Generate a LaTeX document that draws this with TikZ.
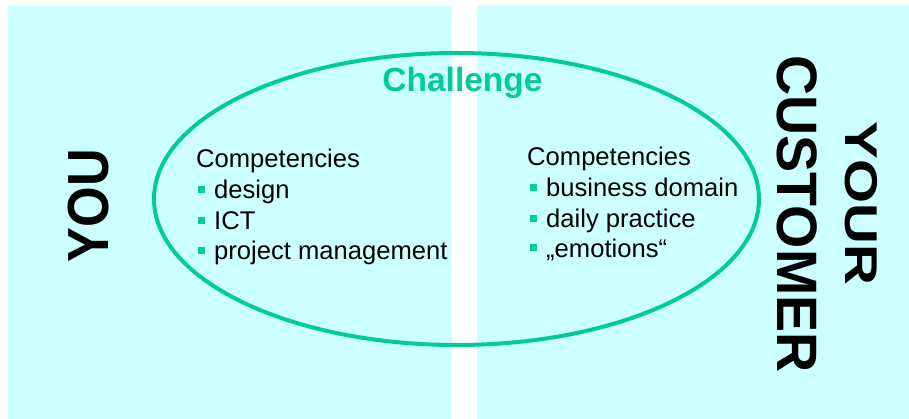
\documentclass[tikz,border=0pt]{standalone}
\usepackage{fontspec}
\setmainfont{Liberation Sans}

\definecolor{challenge}{RGB}{0,204,153}
\definecolor{pane}{RGB}{204,255,255}

% small green square in front of each competency
\newcommand{\greenbox}{{\color{challenge}\rule[6pt]{7pt}{7pt}}\hspace{9pt}}

\begin{document}
\begin{tikzpicture}[x=1pt, y=-1pt,
        entry/.style={anchor=base west, inner sep=0pt, font=\fontsize{25.6}{30}\selectfont},
        side/.style={inner sep=0pt, font=\bfseries}]
    \useasboundingbox (0,0) rectangle (909,419);
    % the two sides
    \fill [pane] (8,6) rectangle (452,419);
    \fill [pane] (477,5) rectangle (909,419);
    % the common ground
    \draw [challenge, line width=4pt] (456.5,199) ellipse (302.5 and 146);
    \node (challenge) [anchor=base, inner sep=0pt, text=challenge,
        font=\fontsize{33.5}{33.5}\selectfont\bfseries] at (462.5,92) {Challenge};
    % side titles
    \node (you) [side, rotate=90] at (89,205.5)
        {\scalebox{0.9}[1]{\fontsize{58}{58}\selectfont YOU}};
    \node (your) [side, rotate=-90] at (861.5,203.5)
        {\scalebox{1.23}[1]{\fontsize{46}{46}\selectfont YOUR}};
    \node (customer) [side, rotate=-90] at (797,214)
        {\scalebox{0.975}[1]{\fontsize{57}{57}\selectfont CUSTOMER}};
    % what you bring
    \node (compyou) [entry] at (196,168) {Competencies};
    \node (design) [entry] at (198,199) {\greenbox design};
    \node (ict) [entry] at (198,230) {\greenbox ICT};
    \node (pm) [entry] at (198,260) {\greenbox project management};
    % what the customer brings
    \node (compcust) [entry] at (527,166) {Competencies};
    \node (business) [entry] at (530,197) {\greenbox business domain};
    \node (practice) [entry] at (530,228) {\greenbox daily practice};
    \node (emotions) [entry] at (530,257.5) {\greenbox „emotions“};
\end{tikzpicture}
\end{document}
